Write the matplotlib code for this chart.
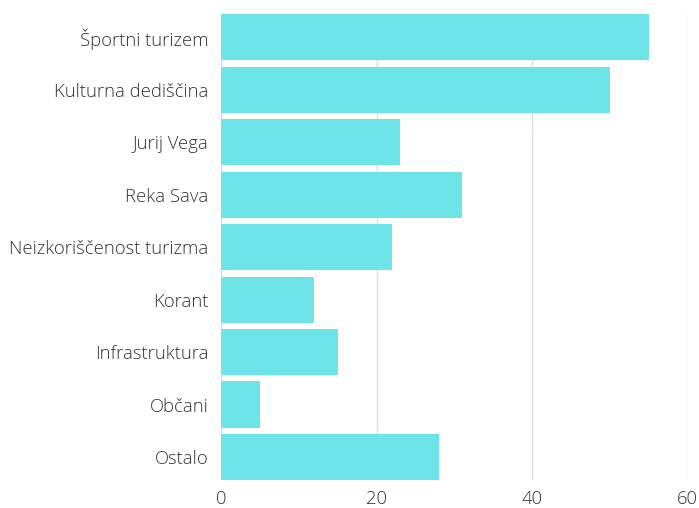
import matplotlib
matplotlib.use("Agg")
import matplotlib.pyplot as plt

categories = [
    "Športni turizem",
    "Kulturna dediščina",
    "Jurij Vega",
    "Reka Sava",
    "Neizkoriščenost turizma",
    "Korant",
    "Infrastruktura",
    "Občani",
    "Ostalo",
]
values = [55, 50, 23, 31, 22, 12, 15, 5, 28]
x_ticks = [0, 20, 40, 60]

plt.rcParams['font.family'] = ['Open Sans', 'DejaVu Sans']

fig = plt.figure(figsize=(6.99, 5.08), dpi=100)
ax = fig.add_axes([0.316, 0.055, 0.668, 0.917])

pos = list(range(len(categories)))
ax.barh(pos, values, height=0.88, color='#6de5e8', zorder=2)

ax.set_xlim(0, 60)
ax.set_ylim(len(categories) - 0.56, -0.44)
ax.set_yticks(pos)
ax.set_yticklabels(categories)
ax.set_xticks(x_ticks)

ax.grid(axis='x', color='#dddddd', linewidth=1, zorder=0)
for s in ax.spines.values():
    s.set_visible(False)
ax.tick_params(axis='both', length=0, labelsize=13.3, labelcolor='#333333')
ax.tick_params(axis='y', pad=9)
ax.tick_params(axis='x', pad=7)
for lbl in ax.get_xticklabels() + ax.get_yticklabels():
    lbl.set_fontweight('light')

fig.savefig('out.png', dpi=100)
